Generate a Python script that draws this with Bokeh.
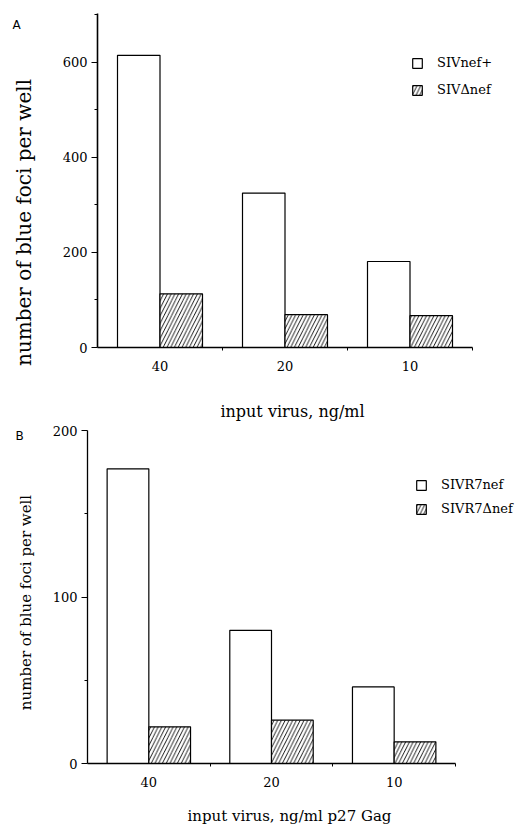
import numpy as np
from bokeh.plotting import figure
from bokeh.layouts import column
from bokeh.models import ColumnDataSource, FixedTicker, Range1d, Legend, LegendItem, Label
from bokeh.embed import file_html
from bokeh.resources import INLINE

# ---- data: panel A ----
doses_a = ["40", "20", "10"]
siv_nef_plus = [615, 325, 181]
siv_delta_nef = [113, 69, 67]
series_a = ["SIVnef+", "SIVΔnef"]
yticks_a = [0, 200, 400, 600]
yminor_a = [100, 300, 500, 700]
ymax_a = 703

# ---- data: panel B ----
doses_b = ["40", "20", "10"]
sivr7_nef = [177, 80, 46]
sivr7_delta_nef = [22, 26, 13]
series_b = ["SIVR7nef", "SIVR7Δnef"]
yticks_b = [0, 100, 200]
yminor_b = [50, 150]
ymax_b = 200

SERIF = "DejaVu Serif"
SANS = "DejaVu Sans"
BAR_W = 0.34
W = 519


def panel(letter, doses, v1, v2, names, yticks, yminor, ymax, xtitle, ytitle, H, axes_px,
          legend_px, legend_spacing, ytitle_px, ytitle_size, xtitle_px, xtitle_size,
          letter_px, axis_w):
    # axes_px: pixel box of the axes (left, right, top, bottom) inside this canvas
    left, right, top, bottom = axes_px
    n = len(doses)
    sx = n / (right - left)                 # data units per pixel (x)
    sy = ymax / (bottom - top)              # data units per pixel (y)
    x_range = Range1d(-left * sx, n + (W - right) * sx)
    y_range = Range1d(-(H - bottom) * sy, ymax + top * sy)

    p = figure(width=W, height=H, output_backend="svg", toolbar_location=None,
               x_range=x_range, y_range=y_range, min_border=0,
               min_border_left=0, min_border_right=0, min_border_top=0, min_border_bottom=0)
    p.xgrid.visible = False
    p.ygrid.visible = False
    p.outline_line_color = None
    p.background_fill_color = "white"
    p.border_fill_color = "white"

    centers = np.arange(n) + 0.5
    src = ColumnDataSource(dict(x1=centers - BAR_W / 2, x2=centers + BAR_W / 2, v1=v1, v2=v2))
    r1 = p.vbar(x="x1", top="v1", bottom=0, width=BAR_W, source=src,
                fill_color="white", line_color="black", line_width=1.2)
    r2 = p.vbar(x="x2", top="v2", bottom=0, width=BAR_W, source=src,
                fill_color="white", line_color="black", line_width=1.2,
                hatch_pattern="/", hatch_color="black", hatch_scale=7.5, hatch_weight=0.9)

    xa = p.xaxis[0]
    xa.fixed_location = 0
    xa.bounds = (0, n)
    xa.ticker = FixedTicker(ticks=[float(c) for c in centers],
                            minor_ticks=[float(i) for i in range(1, n + 1)])
    xa.major_label_overrides = {float(c): d for c, d in zip(centers, doses)}
    xa.major_tick_out = 0
    xa.major_tick_in = 0
    xa.minor_tick_out = 3
    xa.minor_tick_in = 0
    xa.axis_line_width = axis_w
    xa.major_label_standoff = 10
    xa.major_label_text_font = SERIF
    xa.major_label_text_font_size = "13px"
    xa.major_label_text_color = "black"

    ya = p.yaxis[0]
    ya.fixed_location = 0
    ya.bounds = (0, ymax)
    ya.ticker = FixedTicker(ticks=yticks, minor_ticks=yminor)
    ya.major_tick_out = 6
    ya.major_tick_in = 0
    ya.minor_tick_out = 3
    ya.minor_tick_in = 0
    ya.axis_line_width = axis_w
    ya.major_label_standoff = 4
    ya.major_label_text_font = SERIF
    ya.major_label_text_font_size = "13px"
    ya.major_label_text_color = "black"

    legend = Legend(items=[LegendItem(label=names[0], renderers=[r1]),
                           LegendItem(label=names[1], renderers=[r2])],
                    location=(legend_px[0], H - legend_px[1]),
                    glyph_width=12, glyph_height=12,
                    label_height=12, label_standoff=14, spacing=legend_spacing,
                    padding=0, margin=0, border_line_color=None,
                    background_fill_alpha=0,
                    label_text_font=SERIF, label_text_font_size="13px",
                    label_text_color="black")
    p.add_layout(legend, "center")

    p.add_layout(Label(x=ytitle_px[0], y=H - ytitle_px[1], x_units="screen", y_units="screen",
                       text=ytitle, angle=np.pi / 2, text_align="center", text_baseline="middle",
                       text_font=SERIF, text_font_size=ytitle_size, text_color="black"))
    p.add_layout(Label(x=xtitle_px[0], y=H - xtitle_px[1], x_units="screen", y_units="screen",
                       text=xtitle, text_align="center", text_baseline="middle",
                       text_font=SERIF, text_font_size=xtitle_size, text_color="black"))
    p.add_layout(Label(x=letter_px[0], y=H - letter_px[1], x_units="screen", y_units="screen",
                       text=letter, text_align="center", text_baseline="middle",
                       text_font=SANS, text_font_size="12px", text_color="black"))
    return p


pa = panel("A", doses_a, siv_nef_plus, siv_delta_nef, series_a, yticks_a, yminor_a, ymax_a,
           "input virus, ng/ml", "number of blue foci per well", H=422,
           axes_px=(97, 472, 13, 347), legend_px=(411, 97), legend_spacing=12,
           ytitle_px=(23, 222), ytitle_size="20px",
           xtitle_px=(292, 411), xtitle_size="16px", letter_px=(16, 24), axis_w=1.6)

pb = panel("B", doses_b, sivr7_nef, sivr7_delta_nef, series_b, yticks_b, yminor_b, ymax_b,
           "input virus, ng/ml p27 Gag", "number of blue foci per well", H=404,
           axes_px=(87, 455, 8, 341), legend_px=(415, 94), legend_spacing=9,
           ytitle_px=(25, 180), ytitle_size="15px",
           xtitle_px=(289, 393), xtitle_size="15px", letter_px=(19, 13), axis_w=1.3)

layout = column(pa, pb, spacing=0)
open("out.html", "w").write(file_html(layout, INLINE))
